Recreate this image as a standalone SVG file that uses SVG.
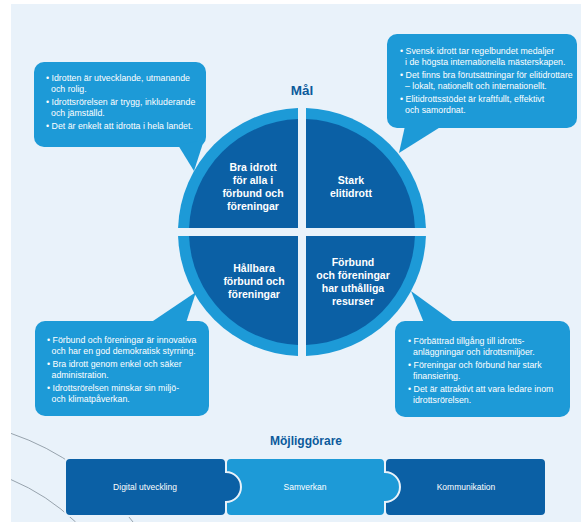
<svg xmlns="http://www.w3.org/2000/svg" width="581" height="522" viewBox="0 0 581 522">
<style>
.bg{fill:#e9f2fa}
.bubble{fill:#1d9ad7}
.btxt{font-family:"Liberation Sans",Arial,sans-serif;font-size:8.8px;fill:#fff}
.ring{fill:#1d9ad7}
.dark{fill:#0b60a5}
.qtxt{font-family:"Liberation Sans",Arial,sans-serif;font-size:10.5px;font-weight:bold;fill:#fff;text-anchor:middle}
.title{font-family:"Liberation Sans",Arial,sans-serif;font-weight:bold;fill:#0c5a9b;text-anchor:middle}
.pdark{fill:#0b60a5;stroke:#e9f2fa;stroke-width:2}
.plight{fill:#1d9ad7;stroke:#e9f2fa;stroke-width:2}
.ptxt{font-family:"Liberation Sans",Arial,sans-serif;font-size:8.5px;fill:#fff;text-anchor:middle}
.arc{fill:none;stroke:#8d9aa4;stroke-width:0.9}
</style>
<rect x="0" y="0" width="581" height="522" fill="#ffffff"/>
<rect class="bg" x="11" y="4" width="570" height="518"/>

<g id="decor-arcs">
<path class="arc" d="M11,433.4 A254.3,254.3 0 0 1 133,522"/>
<path class="arc" d="M11,479.6 A211,211 0 0 1 75.6,522"/>
</g>

<text class="title" x="302" y="95" font-size="13.5">Mål</text>

<g id="bubble-tl">
<rect class="bubble" x="34" y="62" width="172" height="85" rx="10"/>
<polygon class="bubble" points="178,145 204,140 194,171"/>
<text class="btxt" x="46" y="81">• Idrotten är utvecklande, utmanande</text>
<text class="btxt" x="51" y="91.5">och rolig.</text>
<text class="btxt" x="46" y="105">• Idrottsrörelsen är trygg, inkluderande</text>
<text class="btxt" x="51" y="115.5">och jämställd.</text>
<text class="btxt" x="46" y="129">• Det är enkelt att idrotta i hela landet.</text>
</g>

<g id="bubble-tr">
<rect class="bubble" x="387" y="34" width="190" height="94" rx="10"/>
<polygon class="bubble" points="405,126 442,126 399,153"/>
<text class="btxt" x="400" y="54">• Svensk idrott tar regelbundet medaljer</text>
<text class="btxt" x="405" y="64.5">i de högsta internationella mästerskapen.</text>
<text class="btxt" x="400" y="78">• Det finns bra förutsättningar för elitidrottare</text>
<text class="btxt" x="405" y="88.5">– lokalt, nationellt och internationellt.</text>
<text class="btxt" x="400" y="102">• Elitidrottsstödet är kraftfullt, effektivt</text>
<text class="btxt" x="405" y="112.5">och samordnat.</text>
</g>

<g id="bubble-bl">
<rect class="bubble" x="35" y="321" width="174" height="95" rx="10"/>
<polygon class="bubble" points="150,323 186,323 196,292"/>
<text class="btxt" x="47" y="343">• Förbund och föreningar är innovativa</text>
<text class="btxt" x="51.5" y="353.5">och har en god demokratisk styrning.</text>
<text class="btxt" x="47" y="367">• Bra idrott genom enkel och säker</text>
<text class="btxt" x="51.5" y="377.5">administration.</text>
<text class="btxt" x="47" y="391">• Idrottsrörelsen minskar sin miljö-</text>
<text class="btxt" x="51.5" y="401.5">och klimatpåverkan.</text>
</g>

<g id="bubble-br">
<rect class="bubble" x="395" y="321" width="175" height="96" rx="10"/>
<polygon class="bubble" points="424,323 455,323 411,291"/>
<text class="btxt" x="408" y="344">• Förbättrad tillgång till idrotts-</text>
<text class="btxt" x="413" y="354.5">anläggningar och idrottsmiljöer.</text>
<text class="btxt" x="408" y="368">• Föreningar och förbund har stark</text>
<text class="btxt" x="413" y="378.5">finansiering.</text>
<text class="btxt" x="408" y="392">• Det är attraktivt att vara ledare inom</text>
<text class="btxt" x="413" y="402.5">idrottsrörelsen.</text>
</g>

<g id="goal-tl">
<path class="ring" d="M298,228 L178.06,228 A124,124 0 0 1 298,108.06 Z"/>
<path class="dark" d="M298,228 L189.07,228 A113,113 0 0 1 298,119.07 Z"/>
<text class="qtxt" x="253" y="170.5">Bra idrott</text>
<text class="qtxt" x="253" y="183.5">för alla i</text>
<text class="qtxt" x="253" y="197">förbund och</text>
<text class="qtxt" x="253" y="210">föreningar</text>
</g>

<g id="goal-tr">
<path class="ring" d="M306,228 L306,108.06 A124,124 0 0 1 425.94,228 Z"/>
<path class="dark" d="M306,228 L306,119.07 A113,113 0 0 1 414.93,228 Z"/>
<text class="qtxt" x="351" y="184">Stark</text>
<text class="qtxt" x="351" y="196.5">elitidrott</text>
</g>

<g id="goal-bl">
<path class="ring" d="M298,236 L298,355.94 A124,124 0 0 1 178.06,236 Z"/>
<path class="dark" d="M298,236 L298,344.93 A113,113 0 0 1 189.07,236 Z"/>
<text class="qtxt" x="254" y="271.5">Hållbara</text>
<text class="qtxt" x="254" y="285">förbund och</text>
<text class="qtxt" x="254" y="298">föreningar</text>
</g>

<g id="goal-br">
<path class="ring" d="M306,236 L425.94,236 A124,124 0 0 1 306,355.94 Z"/>
<path class="dark" d="M306,236 L414.93,236 A113,113 0 0 1 306,344.93 Z"/>
<text class="qtxt" x="353" y="266">Förbund</text>
<text class="qtxt" x="353" y="279">och föreningar</text>
<text class="qtxt" x="353" y="291.5">har uthålliga</text>
<text class="qtxt" x="353" y="305">resurser</text>
</g>

<text class="title" x="306" y="445" font-size="12">Möjliggörare</text>

<g id="enabler-kommunikation">
<path class="pdark" d="M390,458 H541 Q546,458 546,463 V511 Q546,516 541,516 H390 Q385,516 385,511 V463 Q385,458 390,458 Z"/>
<text class="ptxt" x="466" y="490">Kommunikation</text>
</g>
<g id="enabler-samverkan">
<path class="plight" d="M231,458 H380 Q385,458 385,463 V472 A15,15 0 0 1 385,502 V511 Q385,516 380,516 H231 Q226,516 226,511 V463 Q226,458 231,458 Z"/>
<text class="ptxt" x="305" y="490">Samverkan</text>
</g>
<g id="enabler-digital">
<path class="pdark" d="M70,458 H221 Q226,458 226,463 V472 A15,15 0 0 1 226,502 V511 Q226,516 221,516 H70 Q65,516 65,511 V463 Q65,458 70,458 Z"/>
<text class="ptxt" x="145" y="490">Digital utveckling</text>
</g>
</svg>
